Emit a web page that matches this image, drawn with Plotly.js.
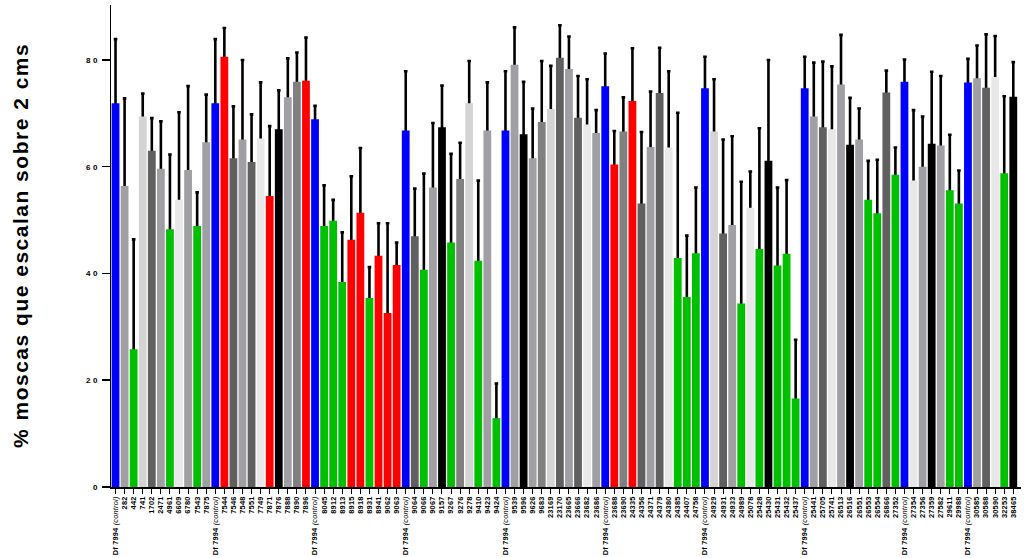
<!DOCTYPE html>
<html>
<head>
<meta charset="utf-8">
<script src="https://cdn.plot.ly/plotly-3.0.1.min.js"></script>
<style>
  html, body { margin: 0; padding: 0; background: #ffffff; }
  #chart { width: 1028px; height: 558px; }
  .ytick text { letter-spacing: 2.5px; }
  .xtick text { letter-spacing: 0.2px; }
  .annotation-text { letter-spacing: 1.5px; }
</style>
</head>
<body>
<div id="chart"></div>
<script>
// Line names (x categories)
const lines = [
  'Df 7994 (control)', '282', '442', '741', '1702', '2471', '4961', '6609', '6780', '7543', '7875',
  'Df 7994 (control)', '7544', '7546', '7548', '7551', '7749', '7871', '7876', '7888', '7890', '7896',
  'Df 7994 (control)', '8045', '8912', '8913', '8915', '8918', '8931', '8941', '9062', '9063',
  'Df 7994 (control)', '9064', '9066', '9067', '9157', '9267', '9276', '9278', '9410', '9423', '9424',
  'Df 7994 (control)', '9539', '9596', '9626', '9683', '23169', '23170', '23665', '23666', '23682', '23686',
  'Df 7994 (control)', '23688', '23690', '24335', '24356', '24371', '24379', '24380', '24385', '24407', '24758',
  'Df 7994 (control)', '24929', '24931', '24933', '24989', '25078', '25428', '25430', '25431', '25432', '25437',
  'Df 7994 (control)', '25441', '25705', '25741', '26513', '26516', '26551', '26553', '26554', '26866', '27352',
  'Df 7994 (control)', '27354', '27356', '27359', '27582', '29611', '29988',
  'Df 7994 (control)', '30585', '30588', '30590', '32253', '38465'
];

// % flies climbing above 2 cm (mean)
const climbing = [
  71.9, 56.4, 25.8, 69.4, 63.0, 59.6, 48.3, 53.8, 59.4, 48.9, 64.6,
  71.9, 80.6, 61.6, 65.1, 60.9, 65.3, 54.5, 67.0, 73.0, 75.9, 76.1,
  68.9, 48.9, 49.9, 38.4, 46.3, 51.4, 35.4, 43.3, 32.6, 41.6,
  66.8, 47.0, 40.7, 56.1, 67.4, 45.8, 57.7, 71.9, 42.4, 66.8, 12.9,
  66.8, 79.1, 66.1, 61.6, 68.4, 70.8, 80.4, 78.3, 69.2, 67.9, 66.3,
  75.1, 60.4, 66.6, 72.3, 53.1, 63.7, 73.8, 63.6, 42.9, 35.6, 43.8,
  74.7, 66.6, 47.5, 49.1, 34.4, 52.3, 44.6, 61.1, 41.5, 43.7, 16.6,
  74.7, 69.4, 67.4, 67.0, 75.4, 64.1, 65.1, 53.8, 51.3, 73.9, 58.5,
  75.9, 57.4, 60.0, 64.3, 64.0, 55.6, 53.1,
  75.8, 76.6, 74.8, 76.8, 58.8, 73.1
];

// error (upper whisker length)
const climbingErr = [
  12.0, 16.4, 20.6, 4.3, 6.1, 8.9, 14.0, 16.4, 15.7, 6.3, 8.9,
  12.0, 5.4, 9.7, 14.9, 8.9, 10.5, 13.1, 7.3, 7.3, 5.5, 8.1,
  2.5, 7.6, 3.9, 9.3, 11.9, 12.1, 5.8, 6.1, 16.8, 4.2,
  11.1, 8.9, 18.0, 12.1, 7.8, 16.6, 6.8, 7.9, 15.0, 9.0, 6.5,
  11.1, 7.0, 9.8, 9.3, 11.4, 8.1, 6.1, 6.1, 7.8, 8.5, 4.3,
  6.1, 6.3, 6.4, 9.9, 13.4, 10.4, 8.5, 14.3, 27.2, 11.5, 12.3,
  5.9, 9.8, 17.6, 16.6, 22.8, 6.8, 22.6, 18.9, 14.6, 13.8, 11.0,
  5.9, 10.1, 12.3, 11.8, 9.3, 8.8, 5.8, 7.3, 10.0, 4.1, 5.1,
  4.2, 13.2, 9.4, 13.5, 13.0, 10.4, 6.2,
  4.4, 6.1, 10.0, 7.7, 14.4, 6.5
];

// bar class: C control, R red, G green, K black, D dark gray, M mid gray, S silver, L light, W very light
const barClass = [
  'C','S','G','L','D','S','G','W','S','G','S',
  'C','R','D','S','D','W','R','K','S','M','R',
  'C','G','G','G','R','R','G','R','R','R',
  'C','D','G','S','K','G','M','L','G','S','G',
  'C','S','K','S','M','L','D','S','D','W','S',
  'C','R','M','R','D','S','D','W','G','G','G',
  'C','L','D','S','G','W','G','K','G','G','G',
  'C','S','D','W','S','K','S','G','G','D','G',
  'C','W','S','K','S','G','G',
  'C','S','D','W','G','K'
];

const palette = {
  C: '#0000ff', R: '#ff0000', G: '#00c000', K: '#000000',
  D: '#606060', M: '#808080', S: '#a0a0a4', L: '#d4d4d4', W: '#e8e8e8'
};

const idx = lines.map((_, i) => i);
const colors = barClass.map(c => palette[c]);
const tickText = lines.map(l => {
  const m = l.match(/^(.*?)\s*\((.*)\)$/);
  if (m) return '<b>' + m[1] + '</b> <i>(' + m[2] + ')</i>';
  return '<b>' + l + '</b>';
});

// error bars drawn in a transparent trace underneath the visible bars
const errTrace = {
  type: 'bar', x: idx, y: climbing,
  marker: { color: 'rgba(0,0,0,0)' },
  error_y: { type: 'data', array: climbingErr, symmetric: true,
             color: '#000000', thickness: 2.6, width: 1.8 },
  hoverinfo: 'skip', showlegend: false
};
const barTrace = {
  type: 'bar', x: idx, y: climbing,
  marker: { color: colors, line: { width: 0 } },
  showlegend: false
};

const layout = {
  width: 1028, height: 558,
  margin: { l: 110.5, r: 6.5, t: 5, b: 71, pad: 0 },
  paper_bgcolor: '#ffffff', plot_bgcolor: '#ffffff',
  barmode: 'overlay', bargap: 0.14,
  showlegend: false,
  font: { family: 'Liberation Sans, Arial, sans-serif', color: '#000000' },
  xaxis: {
    range: [-0.5, 99.85], tickmode: 'array', tickvals: idx, ticktext: tickText,
    tickangle: -90, ticks: 'outside', ticklen: 5, tickwidth: 1, tickcolor: '#000000',
    tickfont: { size: 7.4, family: 'Liberation Sans, Arial, sans-serif', color: '#000000' },
    showline: true, linecolor: '#000000', linewidth: 1.5,
    showgrid: false, zeroline: false, fixedrange: true
  },
  yaxis: {
    range: [0, 90.3], tickmode: 'array', tickvals: [0, 20, 40, 60, 80],
    ticks: 'outside', ticklen: 8, tickwidth: 1.5, tickcolor: '#000000',
    tickfont: { size: 8, family: 'Liberation Sans, Arial, sans-serif', weight: 'bold', color: '#000000' },
    showline: true, linecolor: '#000000', linewidth: 1.5,
    showgrid: false, zeroline: false, fixedrange: true
  },
  annotations: [{
    text: '% moscas que escalan sobre 2 cms',
    xref: 'paper', yref: 'paper', x: -0.1, y: 0.5,
    xanchor: 'center', yanchor: 'middle', textangle: -90, showarrow: false,
    font: { size: 21, family: 'Liberation Sans, Arial, sans-serif', weight: 'bold', color: '#000000' }
  }]
};

Plotly.newPlot('chart', [errTrace, barTrace], layout, { displayModeBar: false, staticPlot: true });
</script>
</body>
</html>
